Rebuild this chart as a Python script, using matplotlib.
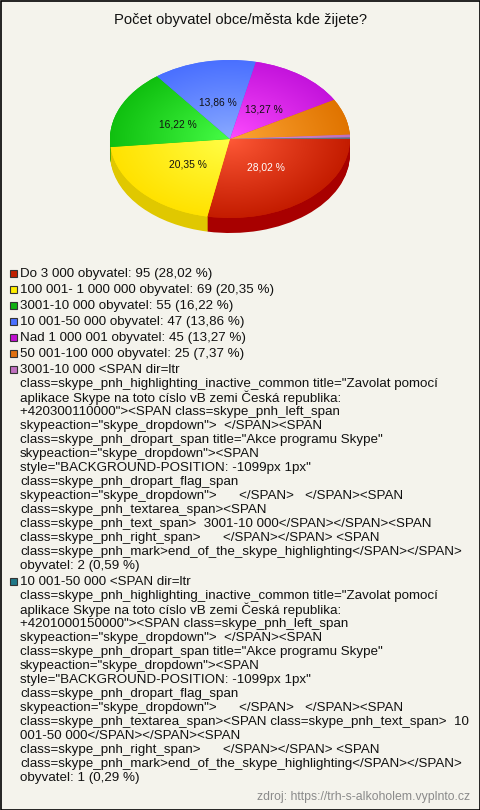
import numpy as np
import matplotlib
matplotlib.use('Agg')
import matplotlib.pyplot as plt
from matplotlib.patches import Rectangle
from matplotlib.colors import to_rgb

plt.rcParams['font.family'] = ['Liberation Sans', 'DejaVu Sans']

title = 'Počet obyvatel obce/města kde žijete?'
source = 'zdroj: https://trh-s-alkoholem.vyplnto.cz'

# answer counts, in the order they appear in the legend / pie
values = [95, 69, 55, 47, 45, 25, 2, 1]
names = [
    'Do 3 000 obyvatel',
    '100 001- 1 000 000 obyvatel',
    '3001-10 000 obyvatel',
    '10 001-50 000 obyvatel',
    'Nad 1 000 001 obyvatel',
    '50 001-100 000 obyvatel',
    '3001-10 000 <SPAN dir=ltr\n'
    'class=skype_pnh_highlighting_inactive_common title="Zavolat pomocí\n'
    'aplikace Skype na toto císlo vB zemi Česká republika:\n'
    '+420300110000"><SPAN class=skype_pnh_left_span\n'
    'skypeaction="skype_dropdown">  </SPAN><SPAN\n'
    'class=skype_pnh_dropart_span title="Akce programu Skype"\n'
    'skypeaction="skype_dropdown"><SPAN\n'
    'style="BACKGROUND-POSITION: -1099px 1px"\n'
    'class=skype_pnh_dropart_flag_span\n'
    'skypeaction="skype_dropdown">      </SPAN>   </SPAN><SPAN\n'
    'class=skype_pnh_textarea_span><SPAN\n'
    'class=skype_pnh_text_span>  3001-10 000</SPAN></SPAN><SPAN\n'
    'class=skype_pnh_right_span>      </SPAN></SPAN> <SPAN\n'
    'class=skype_pnh_mark>end_of_the_skype_highlighting</SPAN></SPAN>\n'
    'obyvatel',
    '10 001-50 000 <SPAN dir=ltr\n'
    'class=skype_pnh_highlighting_inactive_common title="Zavolat pomocí\n'
    'aplikace Skype na toto císlo vB zemi Česká republika:\n'
    '+4201000150000"><SPAN class=skype_pnh_left_span\n'
    'skypeaction="skype_dropdown">  </SPAN><SPAN\n'
    'class=skype_pnh_dropart_span title="Akce programu Skype"\n'
    'skypeaction="skype_dropdown"><SPAN\n'
    'style="BACKGROUND-POSITION: -1099px 1px"\n'
    'class=skype_pnh_dropart_flag_span\n'
    'skypeaction="skype_dropdown">      </SPAN>   </SPAN><SPAN\n'
    'class=skype_pnh_textarea_span><SPAN class=skype_pnh_text_span>  10\n'
    '001-50 000</SPAN></SPAN><SPAN\n'
    'class=skype_pnh_right_span>      </SPAN></SPAN> <SPAN\n'
    'class=skype_pnh_mark>end_of_the_skype_highlighting</SPAN></SPAN>\n'
    'obyvatel',
]

# colours: light (centre) / dark (rim) for the top, side, legend swatch
light = ['#ff5a38', '#ffff48', '#48ff48', '#8cacff', '#ff4cff', '#ffa838', '#d890d8', '#7a8c90']
dark = ['#c41c00', '#ffe200', '#10c010', '#4a70ff', '#c414dc', '#e07400', '#c070c0', '#5a6e74']
side = ['#a80000', '#e0c800', '#0a9a0a', '#3050d0', '#9010a8', '#b05800', '#a050a0', '#405058']
swatch = ['#c02000', '#ffee00', '#10b010', '#4a70ff', '#c010d0', '#e07010', '#c070c0', '#207888']
label_col = ['white', '#111111', '#111111', '#111111', '#111111', '#111111', '#111111', '#111111']

W, H = 480, 810
BG = '#f4f3ec'
fig = plt.figure(figsize=(W / 100, H / 100), dpi=100)
fig.patch.set_facecolor(BG)

# background axes in pixel coordinates (for text, legend, frame)
bg = fig.add_axes([0, 0, 1, 1])
bg.set_xlim(0, W)
bg.set_ylim(H, 0)
bg.axis('off')
bg.add_patch(Rectangle((0.5, 0.5), W - 1, H - 1, fill=False, edgecolor='black', lw=1.2))
bg.text(W / 2, 20, title, ha='center', va='center', fontsize=10.6, color='#111111')
bg.text(470, 797, source, ha='right', va='center', fontsize=8.8, color='#8a8a8a')

# pie: tilted ellipse with a side
cx, cy, rx, ry, depth = 230, 139, 120, 79, 15
pax = fig.add_axes([(cx - 1.25 * rx) / W, (H - cy - 1.25 * ry) / H, 2.5 * rx / W, 2.5 * ry / H])
pax.set_facecolor('none')

for k in range(depth, 0, -1):
    pax.pie(values, colors=side, startangle=0, counterclock=False,
            center=(0, -k / ry), radius=1, wedgeprops=dict(linewidth=0))

total = sum(values)


def fmt(pct):
    if pct < 10:
        return ''
    return f'{pct:.2f} %'.replace('.', ',')


wedges, _, autotexts = pax.pie(values, colors=dark, startangle=0, counterclock=False,
                               autopct=fmt, pctdistance=0.47,
                               textprops=dict(fontsize=7.4),
                               wedgeprops=dict(linewidth=0))

# radial shading on the top surface, clipped to each wedge
yy, xx = np.mgrid[-1:1:240j, -1:1:360j]
t = np.clip(np.hypot(xx, yy), 0, 1)[..., None] ** 0.9
for i, w in enumerate(wedges):
    img = np.array(to_rgb(light[i])) * (1 - t) + np.array(to_rgb(dark[i])) * t
    im = pax.imshow(img, extent=(-1, 1, -1, 1), origin='lower', aspect='auto',
                    interpolation='bilinear', zorder=3)
    im.set_clip_path(w)

for i, at in enumerate(autotexts):
    at.set_color(label_col[i])
    at.set_zorder(5)

pax.set_xlim(-1.25, 1.25)
pax.set_ylim(-1.25, 1.25)
pax.set_aspect('auto')
pax.axis('off')

# legend
y = 274
for i, (name, v) in enumerate(zip(names, values)):
    pct = f'{100 * v / total:.2f}'.replace('.', ',')
    lines = f'{name}: {v} ({pct} %)'.split('\n')
    bg.add_patch(Rectangle((10, y - 4), 7, 7, facecolor=swatch[i], edgecolor='#333333', lw=0.8))
    for j, line in enumerate(lines):
        bg.text(20, y + j * 14, line, ha='left', va='center', fontsize=9.6, color='#111111')
    y += (len(lines) - 1) * 14 + 16

fig.savefig('out.png', dpi=100, facecolor=BG)
